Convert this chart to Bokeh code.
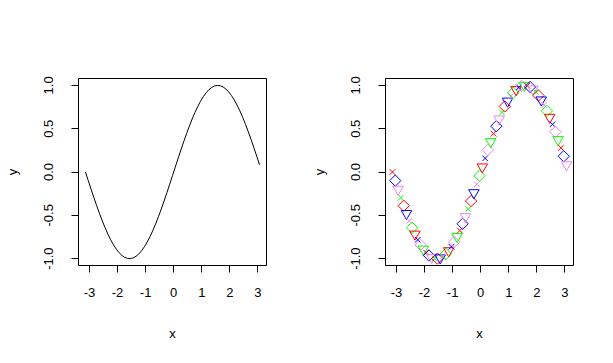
from bokeh.plotting import figure
from bokeh.layouts import row
from bokeh.models import Range1d, FixedTicker, ColumnDataSource
from bokeh.embed import file_html
from bokeh.resources import INLINE
import math

# data: x = -pi .. pi step 0.1 (63 points), y = sin(x)
x_vals = [-3.1416, -3.0416, -2.9416, -2.8416, -2.7416, -2.6416, -2.5416, -2.4416,
          -2.3416, -2.2416, -2.1416, -2.0416, -1.9416, -1.8416, -1.7416, -1.6416,
          -1.5416, -1.4416, -1.3416, -1.2416, -1.1416, -1.0416, -0.9416, -0.8416,
          -0.7416, -0.6416, -0.5416, -0.4416, -0.3416, -0.2416, -0.1416, -0.0416,
          0.0584, 0.1584, 0.2584, 0.3584, 0.4584, 0.5584, 0.6584, 0.7584,
          0.8584, 0.9584, 1.0584, 1.1584, 1.2584, 1.3584, 1.4584, 1.5584,
          1.6584, 1.7584, 1.8584, 1.9584, 2.0584, 2.1584, 2.2584, 2.3584,
          2.4584, 2.5584, 2.6584, 2.7584, 2.8584, 2.9584, 3.0584]
y_vals = [0.0, -0.0998, -0.1987, -0.2955, -0.3894, -0.4794, -0.5646, -0.6442,
          -0.7174, -0.7833, -0.8415, -0.8912, -0.9320, -0.9636, -0.9854, -0.9975,
          -0.9996, -0.9917, -0.9738, -0.9463, -0.9093, -0.8632, -0.8085, -0.7457,
          -0.6755, -0.5985, -0.5155, -0.4274, -0.3350, -0.2392, -0.1411, -0.0416,
          0.0584, 0.1577, 0.2555, 0.3508, 0.4425, 0.5298, 0.6119, 0.6878,
          0.7568, 0.8183, 0.8716, 0.9162, 0.9516, 0.9775, 0.9937, 0.9999,
          0.9962, 0.9825, 0.9589, 0.9258, 0.8835, 0.8323, 0.7728, 0.7055,
          0.6313, 0.5507, 0.4646, 0.3739, 0.2794, 0.1822, 0.0831]

x_ticks = [-3, -2, -1, 0, 1, 2, 3]
x_tick_labels = ["-3", "-2", "-1", "0", "1", "2", "3"]
y_ticks = [-1.0, -0.5, 0.0, 0.5, 1.0]
y_tick_labels = ["-1.0", "-0.5", "0.0", "0.5", "1.0"]

point_colors = ["#FF0000", "#0000FF", "#EE82EE", "#00FF00"]
point_shapes = ["x", "square", "inverted_triangle"]

FONT = "Liberation Sans"


def data_range(vals):
    lo, hi = min(vals), max(vals)
    pad = (hi - lo) * 0.04
    return Range1d(lo - pad, hi + pad)


def make_fig(width, border_left, border_right):
    p = figure(width=width, height=363, output_backend="svg", toolbar_location=None,
               x_range=data_range(x_vals), y_range=data_range(y_vals),
               min_border_left=border_left, min_border_right=border_right,
               min_border_top=78, min_border_bottom=98)
    p.xgrid.visible = False
    p.ygrid.visible = False
    p.outline_line_color = "black"
    p.outline_line_width = 1
    p.outline_line_alpha = 1
    p.background_fill_color = "white"
    p.border_fill_color = "white"
    p.xaxis.ticker = FixedTicker(ticks=x_ticks)
    p.xaxis.major_label_overrides = {t: l for t, l in zip(x_ticks, x_tick_labels)}
    p.yaxis.ticker = FixedTicker(ticks=y_ticks)
    p.yaxis.major_label_overrides = {t: l for t, l in zip(y_ticks, y_tick_labels)}
    p.yaxis.major_label_orientation = "vertical"
    p.xaxis.axis_label = "x"
    p.yaxis.axis_label = "y"
    for ax in (p.xaxis, p.yaxis):
        ax.axis_line_color = None
        ax.major_tick_in = 0
        ax.major_tick_out = 7
        ax.major_tick_line_color = "black"
        ax.minor_tick_line_color = None
        ax.major_label_text_font = FONT
        ax.major_label_text_font_size = "13px"
        ax.major_label_text_color = "black"
        ax.axis_label_text_font = FONT
        ax.axis_label_text_font_size = "13px"
        ax.axis_label_text_font_style = "normal"
        ax.axis_label_text_color = "black"
    p.xaxis.major_label_standoff = 15
    p.xaxis.axis_label_standoff = 26
    p.yaxis.major_label_standoff = 18
    p.yaxis.axis_label_standoff = 22
    return p


p1 = make_fig(306, 78, 40)
p1.line(x_vals, y_vals, line_color="black", line_width=1)

p2 = make_fig(307, 79, 40)
n = len(x_vals)
shapes = [point_shapes[i % 3] for i in range(n)]
src = ColumnDataSource(dict(
    x=x_vals, y=y_vals,
    marker=shapes,
    color=[point_colors[i % 4] for i in range(n)],
    angle=[math.pi / 4 if s == "square" else 0.0 for s in shapes],
    size=[8 if s == "x" else (8 if s == "square" else 10.5) for s in shapes],
))
p2.scatter("x", "y", source=src, marker="marker", line_color="color", fill_color=None,
           angle="angle", size="size", line_width=1)

layout = row(p1, p2)
open("out.html", "w").write(file_html(layout, INLINE))
